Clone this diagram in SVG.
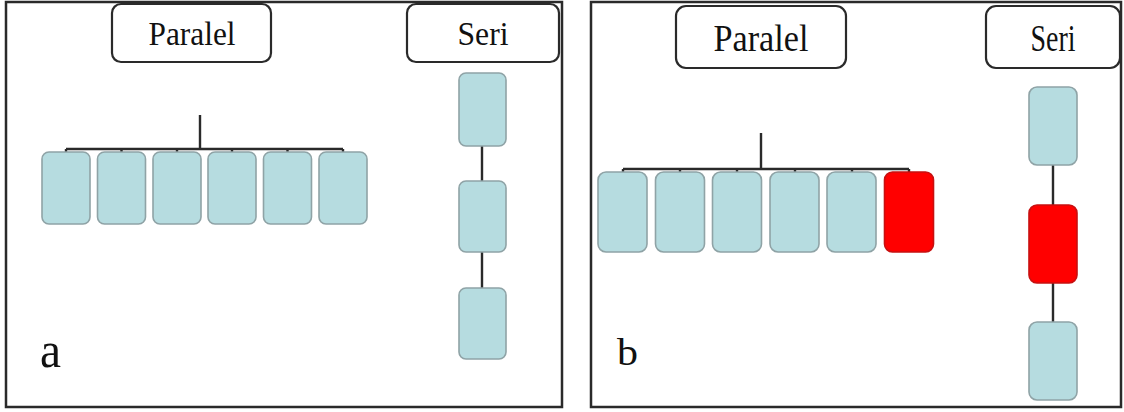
<svg xmlns="http://www.w3.org/2000/svg" width="1124" height="412" viewBox="0 0 1124 412">
<style>
.panel{fill:#fff;stroke:#2a2a2a;stroke-width:2.5}
.lbl{fill:#fff;stroke:#2a2a2a;stroke-width:2.2}
.t{fill:#111;font-family:"Liberation Serif","Times New Roman",serif}
.u{fill:#b6dce0;stroke:#8fa3a6;stroke-width:1.6}
.r{fill:#ff0000;stroke:#c81010;stroke-width:1.6}
.c{stroke:#2a2a2a;stroke-width:2.4;fill:none}
</style>
<rect width="1124" height="412" fill="#fff"/>
<g id="panel-a">
<rect class="panel" x="6" y="2" width="556" height="405"/>
<text class="t" x="40" y="367" font-size="50" textLength="21" lengthAdjust="spacingAndGlyphs">a</text>
</g>
<g id="panel-b">
<rect class="panel" x="591" y="2" width="530" height="405"/>
<text class="t" x="617" y="365" font-size="38" textLength="21" lengthAdjust="spacingAndGlyphs">b</text>
</g>
<g id="a-paralel-label"><rect class="lbl" x="112" y="4" width="159" height="58" rx="9"/><text class="t" x="192" y="45" font-size="33" text-anchor="middle" textLength="87" lengthAdjust="spacingAndGlyphs">Paralel</text></g>
<g id="a-seri-label"><rect class="lbl" x="407" y="4" width="152" height="58" rx="9"/><text class="t" x="483" y="45" font-size="33" text-anchor="middle" textLength="51" lengthAdjust="spacingAndGlyphs">Seri</text></g>
<g id="b-paralel-label"><rect class="lbl" x="676" y="6" width="170" height="62" rx="10"/><text class="t" x="761" y="51" font-size="37" text-anchor="middle" textLength="95" lengthAdjust="spacingAndGlyphs">Paralel</text></g>
<g id="b-seri-label"><rect class="lbl" x="986" y="6" width="134" height="62" rx="10"/><text class="t" x="1053" y="51" font-size="37" text-anchor="middle" textLength="45" lengthAdjust="spacingAndGlyphs">Seri</text></g>
<g id="connectors">
<path class="c" d="M200 115V149M66 149H343M66 149v3M121.5 149v3M177 149v3M232 149v3M287.5 149v3M343 149v3"/>
<path class="c" d="M482 146V182M482 252V288"/>
<path class="c" d="M761 133V169M623 169H909M623 169v3M680 169v3M737 169v3M795 169v3M852 169v3M909 169v3"/>
<path class="c" d="M1053 165V205M1053 283V322"/>
</g>
<g id="a-p1"><rect class="u" x="42" y="152" width="48" height="72" rx="7"/></g>
<g id="a-p2"><rect class="u" x="97.5" y="152" width="48" height="72" rx="7"/></g>
<g id="a-p3"><rect class="u" x="153" y="152" width="48" height="72" rx="7"/></g>
<g id="a-p4"><rect class="u" x="208" y="152" width="48" height="72" rx="7"/></g>
<g id="a-p5"><rect class="u" x="263.5" y="152" width="48" height="72" rx="7"/></g>
<g id="a-p6"><rect class="u" x="319" y="152" width="48" height="72" rx="7"/></g>
<g id="a-s1"><rect class="u" x="459" y="73" width="47" height="73" rx="7"/></g>
<g id="a-s2"><rect class="u" x="459" y="181" width="47" height="71" rx="7"/></g>
<g id="a-s3"><rect class="u" x="459" y="288" width="47" height="71" rx="7"/></g>
<g id="b-p1"><rect class="u" x="598" y="172" width="49" height="80" rx="8"/></g>
<g id="b-p2"><rect class="u" x="655.5" y="172" width="49" height="80" rx="8"/></g>
<g id="b-p3"><rect class="u" x="712.5" y="172" width="49" height="80" rx="8"/></g>
<g id="b-p4"><rect class="u" x="770" y="172" width="49" height="80" rx="8"/></g>
<g id="b-p5"><rect class="u" x="827" y="172" width="49" height="80" rx="8"/></g>
<g id="b-p6"><rect class="r" x="884.5" y="172" width="49" height="80" rx="8"/></g>
<g id="b-s1"><rect class="u" x="1029" y="87" width="48" height="78" rx="8"/></g>
<g id="b-s2"><rect class="r" x="1029" y="205" width="48" height="78" rx="8"/></g>
<g id="b-s3"><rect class="u" x="1029" y="322" width="48" height="78" rx="8"/></g>
</svg>
